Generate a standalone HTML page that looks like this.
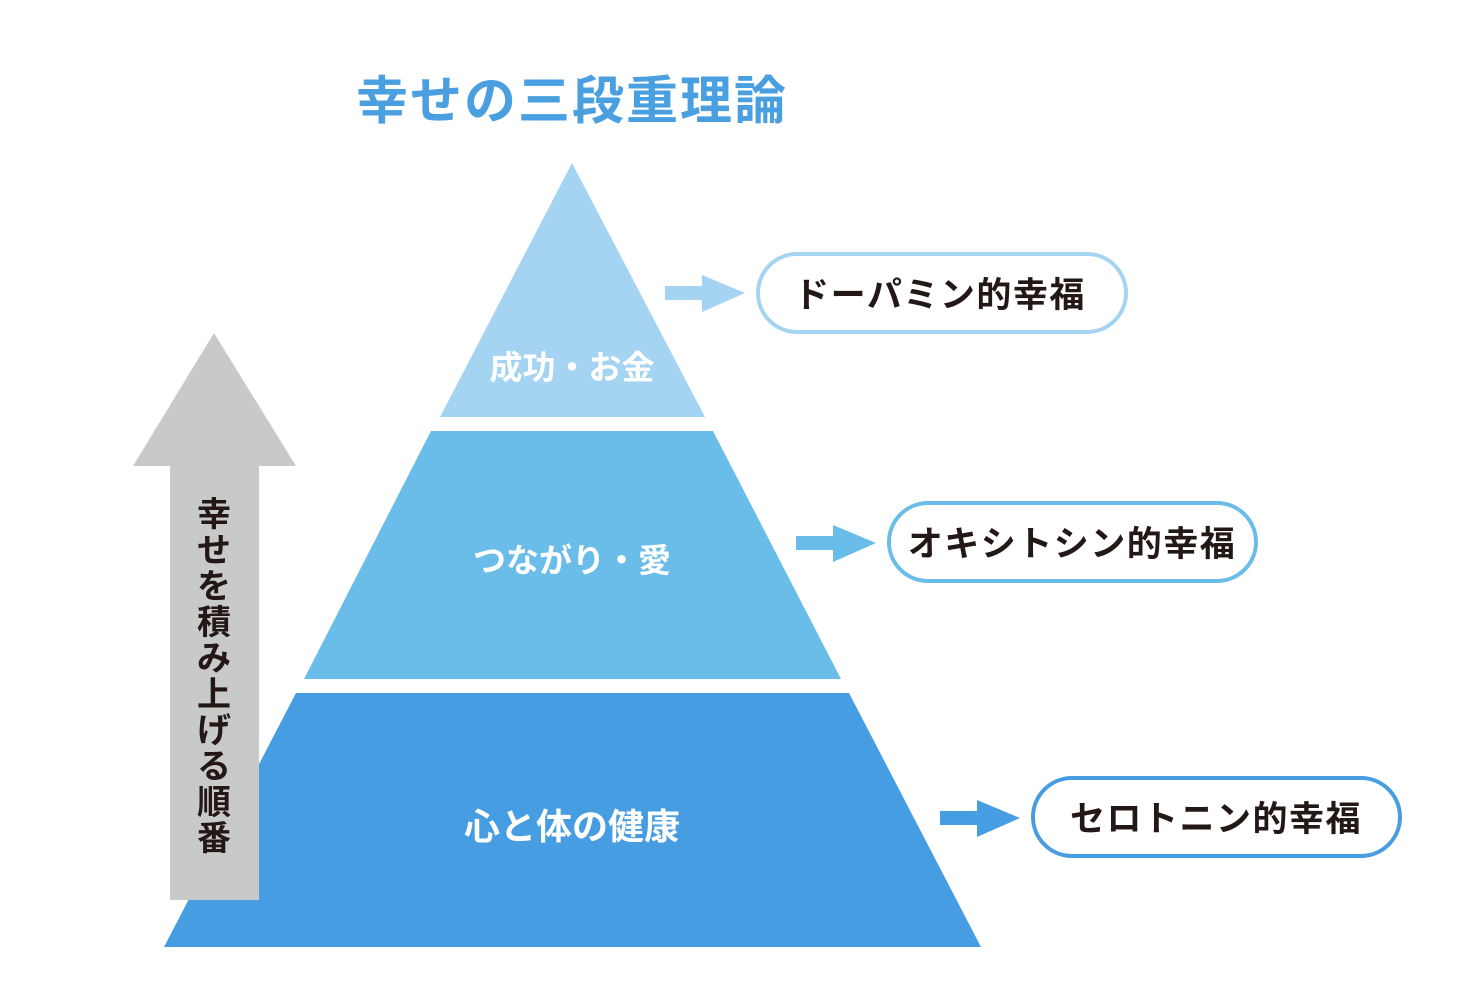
<!DOCTYPE html>
<html><head><meta charset="utf-8"><style>
html,body{margin:0;padding:0;background:#fff;}
body{width:1459px;height:996px;overflow:hidden;position:relative;font-family:"Liberation Sans","Noto Sans CJK JP",sans-serif;}
svg{position:absolute;left:0;top:0;}
</style></head><body>
<svg width="1459" height="996" viewBox="0 0 1459 996" font-family="'Liberation Sans','Noto Sans CJK JP',sans-serif" font-weight="bold">
<text x="572" y="119" text-anchor="middle" font-size="52" fill="#4a9fe0" letter-spacing="2">幸せの三段重理論</text>
<polygon points="572,163 705,417 440,417" fill="#a5d4f2"/>
<polygon points="431,431 713,431 841,679 304,679" fill="#6abce9"/>
<polygon points="296,693 849,693 981,947 164,947" fill="#479de2"/>
<text x="572" y="379" text-anchor="middle" font-size="33" fill="#fff">成功・お金</text>
<text x="572" y="572" text-anchor="middle" font-size="33" fill="#fff">つながり・愛</text>
<text x="572" y="839" text-anchor="middle" font-size="36" fill="#fff">心と体の健康</text>
<polygon points="214,333 296,466 259,466 259,900 170,900 170,466 133,466" fill="#c8c9c9"/>
<g font-size="34" fill="#231815" text-anchor="middle">
<text x="214" y="526">幸</text><text x="214" y="562">せ</text><text x="214" y="598">を</text><text x="214" y="634">積</text><text x="214" y="670">み</text><text x="214" y="706">上</text><text x="214" y="742">げ</text><text x="214" y="778">る</text><text x="214" y="814">順</text><text x="214" y="850">番</text>
</g>
<polygon points="665,286 702,286 702,275 745,293 702,312 702,300 665,300" fill="#a5d4f2"/>
<polygon points="796,536 833,536 833,525 876,543 833,562 833,550 796,550" fill="#6abce9"/>
<polygon points="940,811 977,811 977,800 1020,818 977,837 977,825 940,825" fill="#479de2"/>
<rect x="758" y="254" width="368" height="78" rx="39" fill="#fff" stroke="#a5d4f2" stroke-width="4"/>
<rect x="889" y="503" width="367" height="78" rx="39" fill="#fff" stroke="#6abce9" stroke-width="4"/>
<rect x="1033" y="778" width="367" height="78" rx="39" fill="#fff" stroke="#479de2" stroke-width="4"/>
<g font-size="35" fill="#231815" text-anchor="middle" letter-spacing="1.5">
<text x="940" y="307">ドーパミン的幸福</text>
<text x="1072" y="556">オキシトシン的幸福</text>
<text x="1216" y="831">セロトニン的幸福</text>
</g>
</svg>
</body></html>
